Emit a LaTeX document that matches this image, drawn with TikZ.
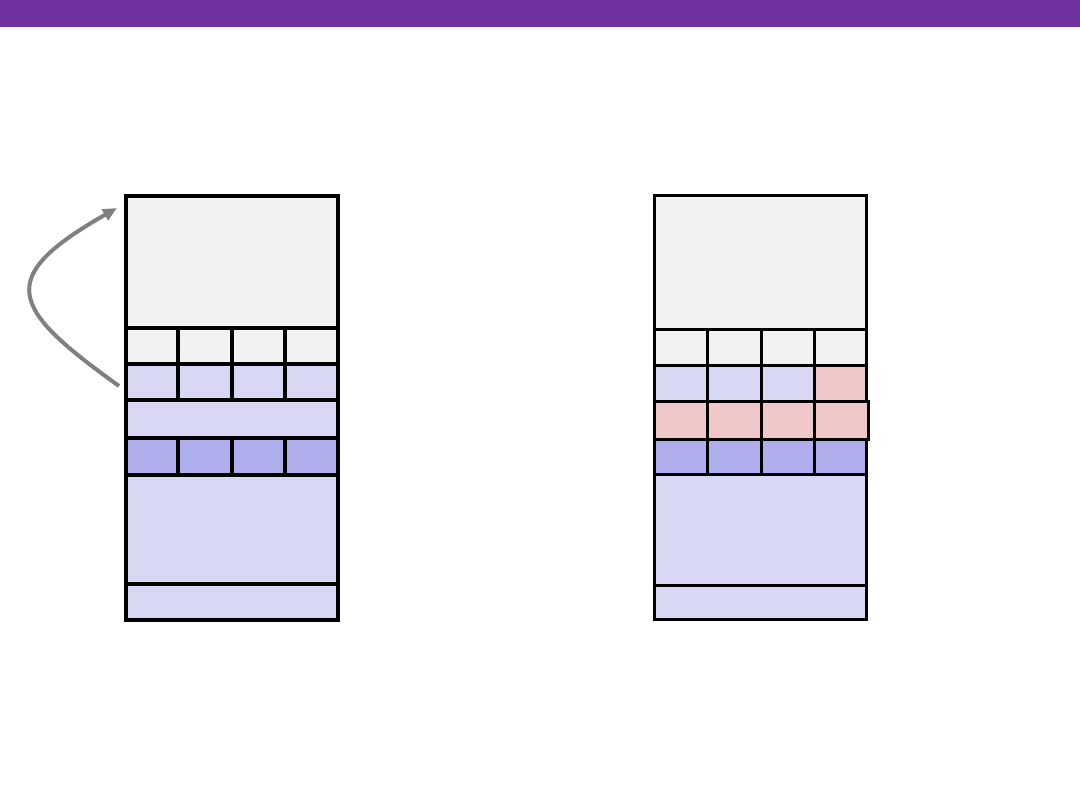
\documentclass[tikz,border=0pt]{standalone}
\usetikzlibrary{arrows.meta}
\definecolor{barpurple}{HTML}{7030A0}
\definecolor{cgray}{HTML}{F2F2F2}
\definecolor{clav}{HTML}{D9D8F4}
\definecolor{cdark}{HTML}{AEAEEC}
\definecolor{cpink}{HTML}{F1C8C9}
\definecolor{arrgray}{HTML}{808080}
\tikzset{
  cell/.style={draw=black, line width=3pt, anchor=north west, inner sep=0pt, outer sep=0pt},
  lcell/.style={cell, line width=3.6pt},
  arr/.style={draw=arrgray, line width=4pt, -{Triangle[length=14pt,width=12pt]}}
}
\begin{document}
\begin{tikzpicture}[x=1pt,y=-1pt]
\useasboundingbox (0,0) rectangle (1080,810);
\fill[white] (0,0) rectangle (1080,810);
\node[fill=barpurple, anchor=north west, minimum width=1080pt, minimum height=27pt, inner sep=0pt, outer sep=0pt] (bar) at (0,0) {};
% ---------- left stack ----------
\node[lcell, fill=cgray, minimum width=212pt, minimum height=132pt] (Lbig) at (126,196) {};
\node[lcell, fill=cgray, minimum width=52pt, minimum height=36pt] (La1) at (126,328) {};
\node[lcell, fill=cgray, minimum width=54pt, minimum height=36pt] (La2) at (178,328) {};
\node[lcell, fill=cgray, minimum width=53pt, minimum height=36pt] (La3) at (232,328) {};
\node[lcell, fill=cgray, minimum width=53pt, minimum height=36pt] (La4) at (285,328) {};
\node[lcell, fill=clav, minimum width=52pt, minimum height=36pt] (Lb1) at (126,364) {};
\node[lcell, fill=clav, minimum width=54pt, minimum height=36pt] (Lb2) at (178,364) {};
\node[lcell, fill=clav, minimum width=53pt, minimum height=36pt] (Lb3) at (232,364) {};
\node[lcell, fill=clav, minimum width=53pt, minimum height=36pt] (Lb4) at (285,364) {};
\node[lcell, fill=clav, minimum width=212pt, minimum height=38pt] (Lwide) at (126,400) {};
\node[lcell, fill=cdark, minimum width=52pt, minimum height=37pt] (Lc1) at (126,438) {};
\node[lcell, fill=cdark, minimum width=54pt, minimum height=37pt] (Lc2) at (178,438) {};
\node[lcell, fill=cdark, minimum width=53pt, minimum height=37pt] (Lc3) at (232,438) {};
\node[lcell, fill=cdark, minimum width=53pt, minimum height=37pt] (Lc4) at (285,438) {};
\node[lcell, fill=clav, minimum width=212pt, minimum height=109pt] (Lbig2) at (126,475) {};
\node[lcell, fill=clav, minimum width=212pt, minimum height=36pt] (Lbot) at (126,584) {};
% ---------- right stack ----------
\node[cell, fill=cgray, minimum width=212pt, minimum height=134pt] (Rbig) at (654,196) {};
\node[cell, fill=cgray, minimum width=53pt, minimum height=36pt] (Ra1) at (654,330) {};
\node[cell, fill=cgray, minimum width=54pt, minimum height=36pt] (Ra2) at (707,330) {};
\node[cell, fill=cgray, minimum width=53pt, minimum height=36pt] (Ra3) at (761,330) {};
\node[cell, fill=cgray, minimum width=52pt, minimum height=36pt] (Ra4) at (814,330) {};
\node[cell, fill=clav, minimum width=53pt, minimum height=36pt] (Rb1) at (654,366) {};
\node[cell, fill=clav, minimum width=54pt, minimum height=36pt] (Rb2) at (707,366) {};
\node[cell, fill=clav, minimum width=53pt, minimum height=36pt] (Rb3) at (761,366) {};
\node[cell, fill=cpink, minimum width=52pt, minimum height=36pt] (Rb4) at (814,366) {};
\node[cell, fill=cpink, minimum width=53pt, minimum height=38pt] (Rc1) at (654,402) {};
\node[cell, fill=cpink, minimum width=54pt, minimum height=38pt] (Rc2) at (707,402) {};
\node[cell, fill=cpink, minimum width=53pt, minimum height=38pt] (Rc3) at (761,402) {};
\node[cell, fill=cpink, minimum width=54pt, minimum height=38pt] (Rc4) at (814,402) {};
\node[cell, fill=cdark, minimum width=53pt, minimum height=35pt] (Rd1) at (654,440) {};
\node[cell, fill=cdark, minimum width=54pt, minimum height=35pt] (Rd2) at (707,440) {};
\node[cell, fill=cdark, minimum width=53pt, minimum height=35pt] (Rd3) at (761,440) {};
\node[cell, fill=cdark, minimum width=52pt, minimum height=35pt] (Rd4) at (814,440) {};
\node[cell, fill=clav, minimum width=212pt, minimum height=110pt] (Rbig2) at (654,475) {};
\node[cell, fill=clav, minimum width=212pt, minimum height=34pt] (Rbot) at (654,585) {};
% ---------- arrow ----------
\coordinate (as) at (119,386);
\coordinate (ae) at (117,208);
\draw[arr] (as) .. controls (10,308) and (-6,278) .. (ae);
\end{tikzpicture}
\end{document}
